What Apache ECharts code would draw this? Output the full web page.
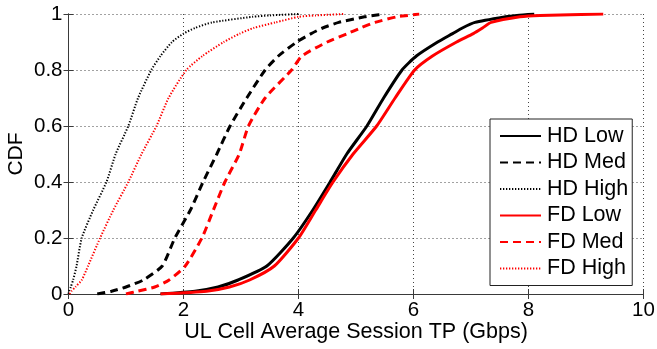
<!DOCTYPE html>
<html>
<head>
<meta charset="utf-8">
<script src="https://cdn.jsdelivr.net/npm/echarts@6/dist/echarts.min.js"></script>
<style>html,body{margin:0;padding:0;background:#fff}#c{width:657px;height:349px}</style>
</head>
<body>
<div id="c"></div>
<script>
// CDF levels shared by all series
const cdfLevels = [0, 0.01, 0.025, 0.05, 0.1, 0.2, 0.3, 0.4, 0.5, 0.6, 0.7, 0.8, 0.85, 0.9, 0.93, 0.95, 0.97, 0.99, 0.995, 1];
// Throughput (Gbps) at each CDF level
const hdLow  = [1.6, 2.2, 2.6, 2.95, 3.45, 3.91, 4.25, 4.55, 4.84, 5.19, 5.48, 5.8, 6.05, 6.42, 6.68, 6.85, 7.07, 7.6, 7.8, 8.1];
const hdMed  = [0.5, 0.75, 1.0, 1.3, 1.63, 1.85, 2.12, 2.34, 2.58, 2.81, 3.1, 3.42, 3.65, 3.97, 4.22, 4.42, 4.7, 5.15, 5.3, 5.5];
const hdHigh = [0, 0.01, 0.04, 0.08, 0.14, 0.23, 0.43, 0.66, 0.82, 1.04, 1.21, 1.44, 1.6, 1.8, 2.0, 2.2, 2.5, 3.2, 3.5, 4.0];
const fdLow  = [1.6, 2.4, 2.8, 3.15, 3.58, 4.0, 4.3, 4.6, 4.95, 5.36, 5.68, 6.02, 6.33, 6.75, 7.04, 7.2, 7.35, 7.85, 8.2, 9.3];
const fdMed  = [1.0, 1.2, 1.5, 1.75, 2.03, 2.32, 2.52, 2.72, 2.97, 3.13, 3.42, 3.88, 4.06, 4.5, 4.85, 5.08, 5.33, 5.71, 5.9, 6.1];
const fdHigh = [0.02, 0.05, 0.12, 0.23, 0.34, 0.55, 0.78, 1.04, 1.27, 1.53, 1.74, 2.05, 2.33, 2.7, 2.98, 3.22, 3.6, 4.0, 4.3, 4.8];

const seriesNames = ['HD Low', 'HD Med', 'HD High', 'FD Low', 'FD Med', 'FD High'];
const seriesX = [hdLow, hdMed, hdHigh, fdLow, fdMed, fdHigh];
const xTicks = [0, 2, 4, 6, 8, 10];
const yTicks = [0, 0.2, 0.4, 0.6, 0.8, 1];

const styles = [
  {color: '#000000', width: 3, type: 'solid'},
  {color: '#000000', width: 3, type: [8, 5]},
  {color: '#000000', width: 2, type: [1.3, 1.7]},
  {color: '#ff0000', width: 3, type: 'solid'},
  {color: '#ff0000', width: 3, type: [8, 5]},
  {color: '#ff0000', width: 2, type: [1.3, 1.7]}
];

const FONT = 'Liberation Sans, Arial, sans-serif';
const axisColor = '#3a3a3a';

const series = seriesNames.map((n, i) => ({
  name: n,
  type: 'line',
  xAxisIndex: 0,
  yAxisIndex: 0,
  symbol: 'none',
  smooth: 0.2,
  data: seriesX[i].map((x, k) => [x, cdfLevels[k]]),
  lineStyle: {color: styles[i].color, width: styles[i].width, type: styles[i].type},
  itemStyle: {color: styles[i].color},
  animation: false
}));

const chart = echarts.init(document.getElementById('c'), null, {renderer: 'canvas'});
chart.setOption({
  animation: false,
  backgroundColor: '#ffffff',
  grid: {left: 68.5, right: 13.5, top: 14, bottom: 55, containLabel: false, outerBoundsMode: 'none'},
  xAxis: [
    {
      type: 'value', min: xTicks[0], max: xTicks[xTicks.length - 1], interval: 2,
      position: 'bottom',
      name: 'UL Cell Average Session TP (Gbps)',
      nameLocation: 'middle', nameGap: 27, nameMoveOverlap: false,
      nameTextStyle: {fontFamily: FONT, fontSize: 21.5, color: '#000'},
      axisLine: {show: true, lineStyle: {color: axisColor, width: 1}},
      axisTick: {show: true, inside: true, length: 5, lineStyle: {color: axisColor}},
      axisLabel: {fontFamily: FONT, fontSize: 20.5, color: '#000', margin: 6},
      splitLine: {show: true, lineStyle: {color: '#444', width: 1, type: [1, 3]}}
    },
    {
      type: 'value', min: xTicks[0], max: xTicks[xTicks.length - 1], interval: 2,
      position: 'top',
      axisLine: {show: true, lineStyle: {color: axisColor, width: 1}},
      axisTick: {show: true, inside: true, length: 5, lineStyle: {color: axisColor}},
      axisLabel: {show: false},
      splitLine: {show: false}
    }
  ],
  yAxis: [
    {
      type: 'value', min: yTicks[0], max: yTicks[yTicks.length - 1], interval: 0.2,
      position: 'left',
      name: 'CDF',
      nameLocation: 'middle', nameGap: 42, nameRotate: 90, nameMoveOverlap: false,
      nameTextStyle: {fontFamily: FONT, fontSize: 21, color: '#000'},
      axisLine: {show: true, lineStyle: {color: axisColor, width: 1}},
      axisTick: {show: true, inside: true, length: 5, lineStyle: {color: axisColor}},
      axisLabel: {fontFamily: FONT, fontSize: 20.5, color: '#000', margin: 6,
        formatter: v => (Math.round(v * 10) / 10).toString()},
      splitLine: {show: true, lineStyle: {color: '#444', width: 1, type: [1, 3]}}
    },
    {
      type: 'value', min: yTicks[0], max: yTicks[yTicks.length - 1], interval: 0.2,
      position: 'right',
      axisLine: {show: true, lineStyle: {color: axisColor, width: 1}},
      axisTick: {show: true, inside: true, length: 5, lineStyle: {color: axisColor}},
      axisLabel: {show: false},
      splitLine: {show: false}
    }
  ],
  legend: {
    data: seriesNames,
    orient: 'vertical',
    left: 490, top: 119,
    padding: [6, 4, 6, 9],
    itemWidth: 41, itemHeight: 20, itemGap: 4.5,
    backgroundColor: '#ffffff',
    borderColor: '#222', borderWidth: 1, borderRadius: 0,
    itemStyle: {color: 'rgba(0,0,0,0)', borderWidth: 0, opacity: 0},
    textStyle: {fontFamily: FONT, fontSize: 21.5, color: '#000', lineHeight: 20, padding: [0, 0, 0, 1]},
    selectedMode: false
  },
  series: series
});
</script>
</body>
</html>
